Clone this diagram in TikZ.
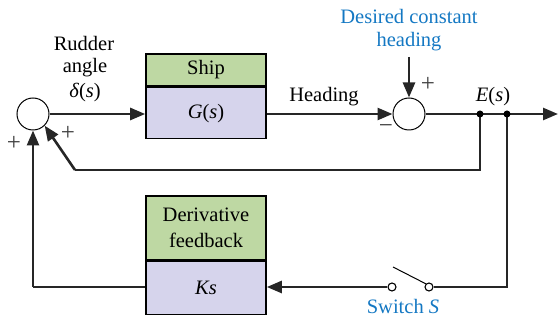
\documentclass[tikz,border=0pt]{standalone}
\usepackage{fontspec}
\setmainfont{Liberation Serif}
\usetikzlibrary{arrows.meta}
\definecolor{boxgreen}{RGB}{190,216,163}
\definecolor{boxpurple}{RGB}{214,212,236}
\definecolor{txtblue}{RGB}{20,120,195}
\begin{document}
\begin{tikzpicture}[x=1pt,y=-1pt,
  every node/.style={font=\fontsize{20.5}{26}\selectfont},
  sig/.style={line width=2.6pt,draw=black!85},
  arr/.style={sig,-{Triangle[length=15pt,width=12pt]}},
  sumj/.style={circle,draw,line width=1pt,minimum size=32pt,inner sep=0pt},
  topbox/.style={draw,line width=1.6pt,fill=boxgreen,minimum width=120pt,inner sep=0pt},
  botbox/.style={draw,line width=1.6pt,fill=boxpurple,minimum width=120pt,inner sep=0pt},
  dot/.style={circle,fill=black,minimum size=7pt,inner sep=0pt},
  term/.style={circle,draw,line width=1.1pt,fill=white,minimum size=8pt,inner sep=0pt},
  lbl/.style={inner sep=0pt},
  sgn/.style={inner sep=0pt,text=black!75,font=\fontsize{25}{26}\selectfont},
  blue/.style={lbl,text=txtblue}
]
\useasboundingbox (0,0) rectangle (560,320);
% summing junctions
\node[sumj] (s1) at (33,114) {};
\node[sumj] (s2) at (409,114) {};
% ship
\node[topbox,minimum height=32pt] (ship) at (206,70) {Ship};
\node[botbox,minimum height=51pt,anchor=north] (G) at (ship.south) {\textit{G}(\textit{s})};
% derivative
\node[topbox,minimum height=64pt,align=center] (der) at (206,228) {Derivative\\feedback};
\node[botbox,minimum height=53pt,anchor=north] (K) at (der.south) {\textit{Ks}};
% coordinates
\coordinate (p1) at (480,114);
\coordinate (p2) at (507,114);
\coordinate (out) at (558,114);
\coordinate (dtop) at (409,57);
\coordinate (f1a) at (480,170);
\coordinate (f1b) at (75,170);
\coordinate (f2a) at (507,287);
\node[term] (tR) at (429,287) {};
\node[term] (tL) at (392,287) {};
\coordinate (lev) at (393,267);
\coordinate (bl) at (33,287);
% connectors
\draw[arr] (s1) -- (s1 -| G.west);
\draw[arr] (s2 -| G.east) -- (s2.west);
\draw[arr] (dtop) -- (s2.north);
\draw[arr] (s2.east) -- (out);
\draw[sig] (p1) -- (f1a) -- (f1b);
\draw[arr] (f1b) -- (s1.-45);
\draw[sig] (p2) -- (f2a) -- (tR.east);
\draw[line width=1pt] (tR.north west) -- (lev);
\draw[arr] (tL.west) -- (tL -| K.east);
\draw[sig] (K.west |- bl) -- (bl);
\draw[arr] (bl) -- (s1.south);
\node[dot] (d1) at (p1) {};
\node[dot] (d2) at (p2) {};
% labels
\node[lbl] (rud) at (84,43) {Rudder};
\node[lbl] (ang) at (85,68) {angle};
\node[lbl] (del) at (85,93) {\textit{δ}(\textit{s})};
\node[lbl] (head) at (324,97) {Heading};
\node[lbl] (es) at (493,97) {\textit{E}(\textit{s})};
\node[blue] (des1) at (409,16) {Desired constant};
\node[blue] (des2) at (409,42) {heading};
\node[blue] (sw) at (403,306) {Switch \textit{S}};
\node[sgn] (pl1) at (428,84) {+};
\node[sgn] (mi2) at (386,129) {−};
\node[sgn] (pl2) at (68,133) {+};
\node[sgn] (pl3) at (14,143) {+};
\end{tikzpicture}
\end{document}
